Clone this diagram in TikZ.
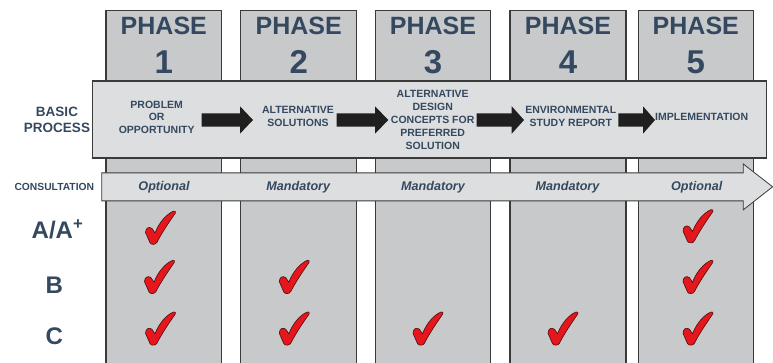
\documentclass[tikz,border=0pt]{standalone}
\usepackage{fontspec}
\setmainfont{Liberation Sans}
\definecolor{txt}{HTML}{34495F}
\definecolor{colfill}{HTML}{C8C9CB}
\definecolor{boxfill}{HTML}{DDDEE0}
\definecolor{edge}{HTML}{3A3A3A}
\definecolor{tickred}{HTML}{E5161C}
\definecolor{tickedge}{HTML}{4A0E0E}
\begin{document}
\begin{tikzpicture}[x=1pt,y=-1pt,
  phasecol/.style={fill=colfill,draw=edge,line width=1.1pt},
  bigbox/.style={fill=boxfill,draw=edge,line width=1.1pt},
  phasehead/.style={font=\bfseries\fontsize{25}{25}\selectfont,text=txt,inner sep=0pt,anchor=base},
  phasenum/.style={font=\bfseries\fontsize{33}{33}\selectfont,text=txt,inner sep=0pt,anchor=base},
  steptext/.style={font=\bfseries\fontsize{10.5}{12.8}\selectfont,text=txt,inner sep=0pt,align=center},
  sidelabel/.style={font=\bfseries\fontsize{13.5}{16}\selectfont,text=txt,inner sep=0pt,align=center},
  consultlabel/.style={font=\bfseries\fontsize{10.3}{12}\selectfont,text=txt,inner sep=0pt,anchor=base},
  consulttext/.style={font=\bfseries\itshape\fontsize{12.6}{14}\selectfont,text=txt,inner sep=0pt,anchor=base},
  rowlabel/.style={font=\bfseries\fontsize{24}{24}\selectfont,text=txt,inner sep=0pt,anchor=base},
  blockarrow/.style={fill=black!88},
  redtick/.pic={\path[fill=tickred,draw=tickedge,line width=0.6pt]
    (-15,5) .. controls (-15,0.5) and (-11.5,-1.5) .. (-8.5,1)
    -- (-5.5,5.5)
    .. controls (-1.5,-5) and (6,-13.5) .. (13,-16.3)
    .. controls (14.6,-16.9) and (15.8,-15.6) .. (14.8,-14.3)
    .. controls (9,-6) and (1.5,5) .. (-3.5,14.8)
    .. controls (-4.8,17.5) and (-9.5,17.5) .. (-10.5,15.3)
    -- cycle;}
]
\useasboundingbox (0,0) rectangle (773,363);
\clip (0,0) rectangle (773,363);

% phase columns
\foreach \l/\r in {106/221.7, 240.7/356.7, 375.3/490.7, 510/626, 638.3/753.3}
  \draw[phasecol] (\l,10.7) rectangle (\r,372);

% phase headings
\foreach \c/\n in {163.8/1, 298.7/2, 433/3, 568/4, 695.8/5}{
  \node[phasehead] (ph\n) at (\c,35) {PHASE};
  \node[phasenum] (pn\n) at (\c,74) {\n};
}

% basic process box
\draw[bigbox] (92.7,81) rectangle (766.7,158);

% block arrows
\foreach \a/\h/\t in {201.7/240/253, 336.7/375/388.3, 476.7/511.7/524, 618.3/643/655}
  \fill[blockarrow] (\a,113.3) -- (\h,113.3) -- (\h,106.3) -- (\t,120) -- (\h,133.7) -- (\h,126.7) -- (\a,126.7) -- cycle;

\node[sidelabel] (basic) at (57,120) {BASIC\\PROCESS};
\node[steptext] (s1) at (156.7,117.3) {PROBLEM\\OR\\OPPORTUNITY};
\node[steptext] (s2) at (298,116.3) {ALTERNATIVE\\SOLUTIONS};
\node[steptext] (s3) at (432.7,120) {ALTERNATIVE\\DESIGN\\CONCEPTS FOR\\PREFERRED\\SOLUTION};
\node[steptext] (s4) at (570.8,116.3) {ENVIRONMENTAL\\STUDY REPORT};
\node[steptext] (s5) at (701.7,117.3) {IMPLEMENTATION};

% consultation arrow
\draw[fill=boxfill,draw=edge,line width=0.8pt]
  (101.7,172.9) -- (743.3,172.9) -- (743.3,164) -- (772.6,186.8) -- (743.3,209.8) -- (743.3,200.9) -- (101.7,200.9) -- cycle;
\node[consultlabel] (consult) at (54.3,190.7) {CONSULTATION};
\node[consulttext] (c1) at (164,190.7) {Optional};
\node[consulttext] (c2) at (298.3,190.7) {Mandatory};
\node[consulttext] (c3) at (433,190.7) {Mandatory};
\node[consulttext] (c4) at (567.5,190.7) {Mandatory};
\node[consulttext] (c5) at (696.7,190.7) {Optional};

% row labels
\node[rowlabel] (rowA) at (57.5,239) {A/A\textsuperscript{+}};
\node[rowlabel] (rowB) at (54.3,293.3) {B};
\node[rowlabel] (rowC) at (54.3,344) {C};

% ticks
\pic at (160.5,227.5) {redtick};
\pic at (698,226) {redtick};
\pic at (159.5,276.7) {redtick};
\pic at (294.3,276.7) {redtick};
\pic at (698,276.7) {redtick};
\pic at (160.5,328.3) {redtick};
\pic at (294.3,328.3) {redtick};
\pic at (428,328.3) {redtick};
\pic at (563,328.3) {redtick};
\pic at (698,328.3) {redtick};
\end{tikzpicture}
\end{document}
